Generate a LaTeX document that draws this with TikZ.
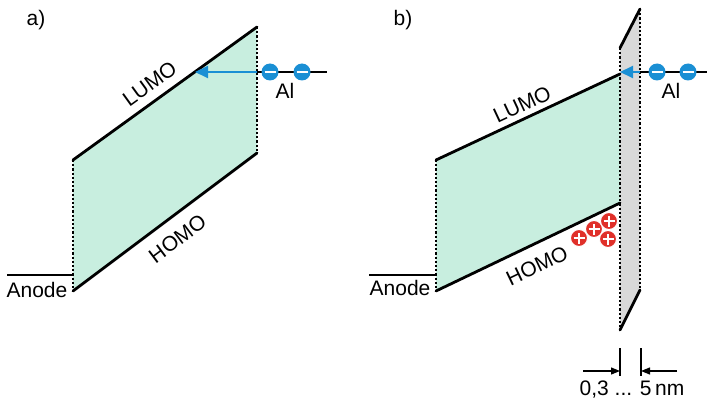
\documentclass[tikz,border=0pt]{standalone}
\usepackage{fontspec}
\setmainfont{Liberation Sans}
\usetikzlibrary{arrows.meta}
\definecolor{mint}{HTML}{C8EEDF}
\definecolor{eblue}{HTML}{1A8FD4}
\definecolor{hred}{HTML}{E0302A}
\definecolor{lgray}{HTML}{D9D9D9}
\tikzset{
  level/.style={line width=2.8pt, line cap=round},
  dotline/.style={line width=2.6pt, dash pattern=on 2.2pt off 2pt},
  lbl/.style={font=\fontsize{21}{25}\selectfont, inner sep=0pt},
  electron/.style={circle, fill=eblue, minimum size=17pt, inner sep=0pt,
    path picture={\draw[white, line width=2.6pt]
      ([xshift=-5.5pt]path picture bounding box.center) --
      ([xshift=5.5pt]path picture bounding box.center);}},
  hole/.style={circle, fill=hred, draw=white, line width=1pt, minimum size=17pt, inner sep=0pt,
    path picture={\draw[white, line width=2.6pt]
      ([xshift=-5.5pt]path picture bounding box.center) --
      ([xshift=5.5pt]path picture bounding box.center)
      ([yshift=-5.5pt]path picture bounding box.center) --
      ([yshift=5.5pt]path picture bounding box.center);}},
  inject/.style={eblue, line width=2pt, -{Triangle[length=13pt,width=12pt]}},
  dimarrow/.style={line width=1.2pt, -{Triangle[length=9pt,width=7pt]}},
  dimtick/.style={line width=1.3pt},
}
\begin{document}
\begin{tikzpicture}[x=1pt,y=-1pt]
\useasboundingbox (0,0) rectangle (707,401);

% ---------- panel a ----------
\coordinate (aL1) at (73,160);
\coordinate (aL2) at (257,27);
\coordinate (aH1) at (73,291);
\coordinate (aH2) at (257,153);
\coordinate (aAn) at (7,275);
\coordinate (aAlE) at (327,72);
\coordinate (aAlS) at (257,72);
\coordinate (aTip) at (195,72);

\fill[mint] (aL1) -- (aL2) -- (aH2) -- (aH1) -- cycle;
\draw[dotline] (aL1) -- (aH1);
\draw[dotline] (aL2) -- (aH2);
\draw[level] (aL1) -- node[lbl, sloped, above=8pt, pos=0.47] (aLumo) {LUMO} (aL2);
\draw[level] (aH1) -- node[lbl, sloped, below=12pt, pos=0.5] (aHomo) {HOMO} (aH2);
\draw[level, line cap=butt] (aAn) -- (aAn -| aL1);
\draw[level, line cap=butt] (aAlS) -- (aAlE);
\draw[inject] (aAlS) -- (aTip);
\node[electron] (ae1) at (270,72) {};
\node[electron] (ae2) at (302,72) {};
\node[lbl] (aAl) at (285,91) {Al};
\node[lbl] (aAnode) at (37,290) {Anode};
\node[lbl] (alab) at (36,20) {a)};

% ---------- panel b ----------
\coordinate (bL1) at (436,160);
\coordinate (bL2) at (620,74);
\coordinate (bH1) at (436,291);
\coordinate (bH2) at (620,203);
\coordinate (bAn) at (369,275);
\coordinate (bAlE) at (707,72);
\coordinate (bAlS) at (640,72);
\coordinate (bTip) at (620,72);
% oxide layer
\coordinate (gTL) at (620,48);
\coordinate (gTR) at (640,9);
\coordinate (gBR) at (640,290);
\coordinate (gBL) at (620,330);

\fill[lgray] (gTL) -- (gTR) -- (gBR) -- (gBL) -- cycle;
\fill[mint] (bL1) -- (bL2) -- (bH2) -- (bH1) -- cycle;
\draw[dotline] (gTL) -- (gBL);
\draw[dotline] (gTR) -- (gBR);
\draw[level] (gTL) -- (gTR);
\draw[level] (gBL) -- (gBR);
\draw[dotline] (bL1) -- (bH1);
\draw[level] (bL1) -- node[lbl, sloped, above=5pt, pos=0.5] (bLumo) {LUMO} (bL2);
\draw[level] (bH1) -- node[lbl, sloped, below=12pt, pos=0.5] (bHomo) {HOMO} (bH2);
\draw[level, line cap=butt] (bAn) -- (bAn -| bL1);
\draw[level, line cap=butt] (bAlS) -- (bAlE);
\draw[inject] (bAlS) -- (bTip);
\node[electron] (be1) at (657,72) {};
\node[electron] (be2) at (688,72) {};
\node[lbl] (bAl) at (671,91) {Al};
\node[lbl] (bAnode) at (400,288) {Anode};
\node[lbl] (blab) at (403,20) {b)};
% holes
\node[hole] (h1) at (579,238) {};
\node[hole] (h2) at (594,229) {};
\node[hole] (h3) at (609,221) {};
\node[hole] (h4) at (608,239) {};

% dimension
\coordinate (t1a) at (620,348);
\coordinate (t1b) at (620,376);
\coordinate (t2a) at (641,348);
\coordinate (t2b) at (641,376);
\coordinate (d1) at (583,371);
\coordinate (d2) at (677,371);
\draw[dimtick] (t1a) -- (t1b);
\draw[dimtick] (t2a) -- (t2b);
\draw[dimarrow] (d1) -- (d1 -| t1a);
\draw[dimarrow] (d2) -- (d2 -| t2a);
\node[lbl] (dimtxt) at (632,390) {0,3 ... 5\,nm};
\end{tikzpicture}
\end{document}
